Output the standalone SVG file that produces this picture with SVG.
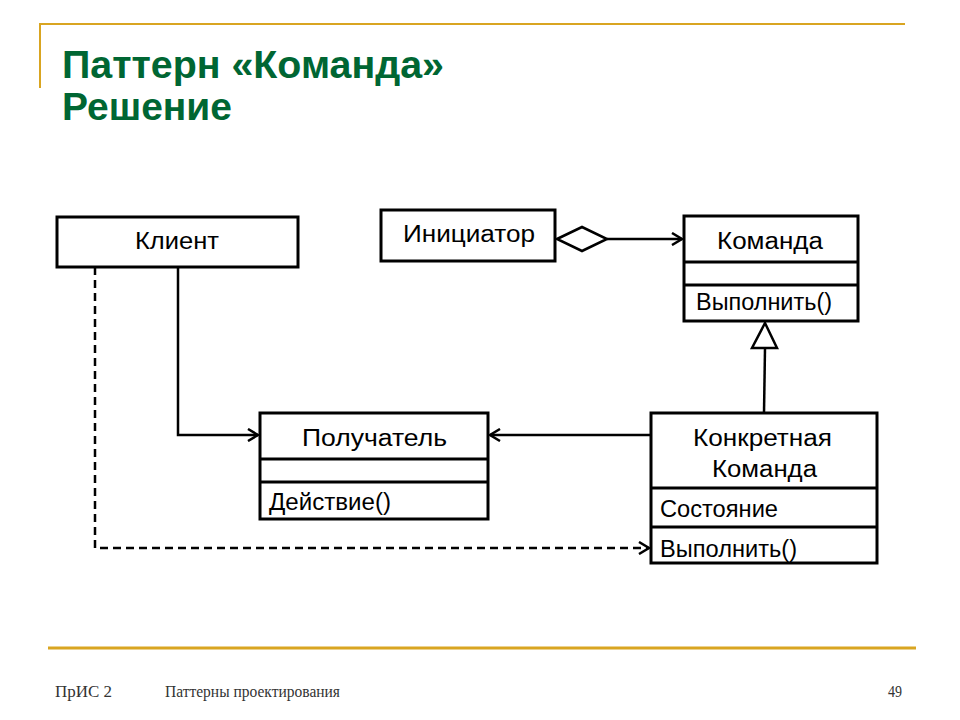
<svg xmlns="http://www.w3.org/2000/svg" width="960" height="720" viewBox="0 0 960 720">
<style>
.box{fill:#fff;stroke:#000;stroke-width:3}
.div{stroke:#000;stroke-width:3}
.t{font-family:"Liberation Sans",Arial,sans-serif;font-size:23px;fill:#000}
.c{text-anchor:middle}
.ln{fill:none;stroke:#000;stroke-width:2.5}
.title{font-family:"Liberation Sans",Arial,sans-serif;font-weight:bold;font-size:39px;fill:#006633}
.foot{font-family:"Liberation Serif","Times New Roman",serif;font-size:16px;fill:#333}
</style>
<defs>
<marker id="open" markerWidth="14" markerHeight="14" refX="12" refY="7" orient="auto" markerUnits="userSpaceOnUse">
<path d="M2,1 L12,7 L2,13" fill="none" stroke="#000" stroke-width="2.5"/>
</marker>
</defs>
<rect width="960" height="720" fill="#fff"/>
<g id="decor">
<line x1="40" y1="24" x2="905" y2="24" stroke="#D9A521" stroke-width="2"/>
<line x1="40" y1="23" x2="40" y2="88" stroke="#D9A521" stroke-width="2"/>
<line x1="48" y1="648" x2="916" y2="648" stroke="#D9A521" stroke-width="3"/>
<text class="title" x="62" y="78" textLength="382" lengthAdjust="spacingAndGlyphs">Паттерн «Команда»</text>
<text class="title" x="62" y="120" textLength="170" lengthAdjust="spacingAndGlyphs">Решение</text>
<text class="foot" x="55" y="697" textLength="57" lengthAdjust="spacingAndGlyphs">ПрИС 2</text>
<text class="foot" x="165" y="697" textLength="175" lengthAdjust="spacingAndGlyphs">Паттерны проектирования</text>
<text class="foot" x="888" y="697" textLength="14" lengthAdjust="spacingAndGlyphs">49</text>
</g>
<g id="connectors">
<polyline class="ln" points="178,267 178,435 258,435" marker-end="url(#open)"/>
<line class="ln" x1="651" y1="435" x2="490" y2="435" marker-end="url(#open)"/>
<line class="ln" x1="607" y1="239" x2="682" y2="239" marker-end="url(#open)"/>
<path d="M557,239 L582,227 L607,239 L582,251 Z" fill="#fff" stroke="#000" stroke-width="2.5"/>
<line class="ln" x1="764" y1="413" x2="765" y2="348"/>
<path d="M765,323 L777,348 L752,348 Z" fill="#fff" stroke="#000" stroke-width="2.5"/>
<polyline class="ln" points="95,267 95,548 649,548" stroke-dasharray="8,5" marker-end="url(#open)"/>
</g>
<g id="client">
<rect class="box" x="57" y="217" width="241" height="50"/>
<text class="t" x="135" y="249" textLength="84" lengthAdjust="spacingAndGlyphs">Клиент</text>
</g>
<g id="invoker">
<rect class="box" x="381" y="210" width="174" height="51"/>
<text class="t" x="403" y="242" textLength="132" lengthAdjust="spacingAndGlyphs">Инициатор</text>
</g>
<g id="command">
<rect class="box" x="684" y="216" width="174" height="105"/>
<line class="div" x1="684" y1="262" x2="858" y2="262"/>
<line class="div" x1="684" y1="285" x2="858" y2="285"/>
<text class="t" x="717" y="249" textLength="106" lengthAdjust="spacingAndGlyphs">Команда</text>
<text class="t" x="696" y="310" textLength="136" lengthAdjust="spacingAndGlyphs">Выполнить()</text>
</g>
<g id="receiver">
<rect class="box" x="260" y="413" width="228" height="106"/>
<line class="div" x1="260" y1="459" x2="488" y2="459"/>
<line class="div" x1="260" y1="482" x2="488" y2="482"/>
<text class="t" x="302" y="446" textLength="145" lengthAdjust="spacingAndGlyphs">Получатель</text>
<text class="t" x="269" y="510" textLength="122" lengthAdjust="spacingAndGlyphs">Действие()</text>
</g>
<g id="concrete">
<rect class="box" x="651" y="413" width="226" height="150"/>
<line class="div" x1="651" y1="488" x2="877" y2="488"/>
<line class="div" x1="651" y1="527" x2="877" y2="527"/>
<text class="t" x="693" y="446" textLength="139" lengthAdjust="spacingAndGlyphs">Конкретная</text>
<text class="t" x="712" y="477" textLength="105" lengthAdjust="spacingAndGlyphs">Команда</text>
<text class="t" x="660" y="517" textLength="118" lengthAdjust="spacingAndGlyphs">Состояние</text>
<text class="t" x="660" y="557" textLength="137" lengthAdjust="spacingAndGlyphs">Выполнить()</text>
</g>
</svg>
